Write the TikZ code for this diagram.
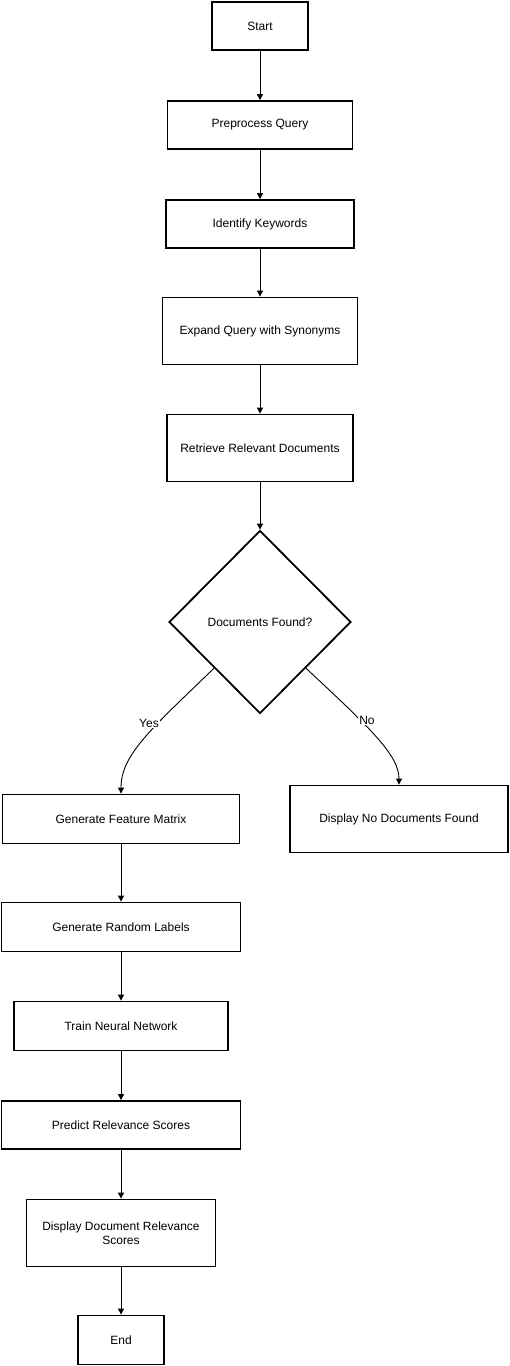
\documentclass[tikz,border=0pt]{standalone}
\usepackage{fontspec}
\setmainfont{Liberation Sans}
\usetikzlibrary{shapes.geometric, arrows.meta}
\tikzset{>={Triangle[length=6pt,width=6pt]}}
\tikzset{box/.style={draw, line width=1.8pt, align=center, inner sep=2pt, font=\fontsize{12}{14}\selectfont}}
\tikzset{flow/.style={->, line width=0.9pt}}
\tikzset{lbl/.style={fill=white, inner sep=1pt, font=\fontsize{12}{14}\selectfont}}

\begin{document}
\begin{tikzpicture}[x=1pt, y=-1pt]
\useasboundingbox (0,0) rectangle (509,1366);
\node[box, minimum width=96pt, minimum height=48pt] (start) at (260,26) {Start};
\node[box, minimum width=185pt, minimum height=48pt] (prep) at (260,125) {Preprocess Query};
\node[box, minimum width=188pt, minimum height=48pt] (keys) at (260,224) {Identify Keywords};
\node[box, minimum width=195pt, minimum height=67pt] (expand) at (260,331) {Expand Query with Synonyms};
\node[box, minimum width=186pt, minimum height=67pt] (retr) at (260,448) {Retrieve Relevant Documents};
\node[box, diamond, aspect=1, inner sep=0pt, minimum width=182pt, minimum height=183pt] (found) at (260,622) {Documents Found?};
\node[box, minimum width=237pt, minimum height=49pt] (feat) at (121,819) {Generate Feature Matrix};
\node[box, minimum width=218pt, minimum height=67pt] (none) at (399,819) {Display No Documents Found};
\node[box, minimum width=239pt, minimum height=49pt] (rand) at (121,927) {Generate Random Labels};
\node[box, minimum width=214pt, minimum height=49pt] (train) at (121,1026) {Train Neural Network};
\node[box, minimum width=239pt, minimum height=48pt] (pred) at (121,1125) {Predict Relevance Scores};
\node[box, minimum width=189pt, minimum height=67pt] (show) at (121,1233) {Display Document Relevance\\Scores};
\node[box, minimum width=86pt, minimum height=49pt] (end) at (121,1340) {End};

\draw[flow] (start) -- (prep);
\draw[flow] (prep) -- (keys);
\draw[flow] (keys) -- (expand);
\draw[flow] (expand) -- (retr);
\draw[flow] (retr) -- (found);
\draw[flow] (found.south west) .. controls (150,730) and (121,755) .. (feat.north);
\draw[flow] (found.south east) .. controls (370,728) and (399,755) .. (none.north);
\node[lbl] (yes) at (149,723) {Yes};
\node[lbl] (no) at (367,720) {No};
\draw[flow] (feat) -- (rand);
\draw[flow] (rand) -- (train);
\draw[flow] (train) -- (pred);
\draw[flow] (pred) -- (show);
\draw[flow] (show) -- (end);
\end{tikzpicture}
\end{document}
